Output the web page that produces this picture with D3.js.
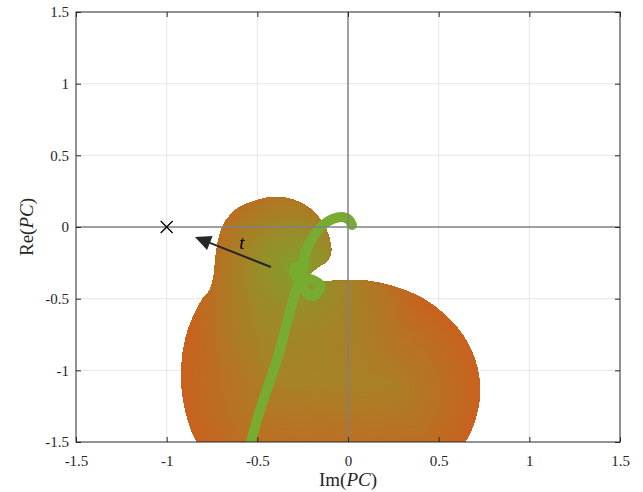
<!DOCTYPE html>
<html><head><meta charset="utf-8">
<script src="https://cdn.jsdelivr.net/npm/d3@7"></script>
<style>body{margin:0;background:#fff}</style>
</head><body>
<svg id="c" width="643" height="492" xmlns="http://www.w3.org/2000/svg"></svg>
<script>
// ---- data ----
const xTicks = [-1.5, -1, -0.5, 0, 0.5, 1, 1.5];
const yTicks = [-1.5, -1, -0.5, 0, 0.5, 1, 1.5];
const xTickLabels = ["-1.5", "-1", "-0.5", "0", "0.5", "1", "1.5"];
const yTickLabels = ["-1.5", "-1", "-0.5", "0", "0.5", "1", "1.5"];

// outline of the shaded region (Im, Re)
const regionX = [-0.60, -0.76, -0.833, -0.882, -0.915, -0.915, -0.882, -0.805, -0.761, -0.739, -0.730, -0.712, -0.684, -0.632, -0.562, -0.475, -0.397, -0.319, -0.245, -0.183, -0.135, -0.104, -0.094, -0.116, -0.165, -0.210, -0.182, 0.050, 0.176, 0.309, 0.425, 0.535, 0.632, 0.700, 0.728, 0.700, 0.645, 0.502];
const regionY = [-1.72, -1.62, -1.500, -1.347, -1.137, -0.928, -0.719, -0.509, -0.440, -0.335, -0.216, -0.077, 0.021, 0.105, 0.160, 0.196, 0.209, 0.196, 0.158, 0.097, 0.017, -0.075, -0.174, -0.237, -0.279, -0.335, -0.370, -0.370, -0.391, -0.440, -0.509, -0.614, -0.753, -0.928, -1.137, -1.347, -1.500, -1.695];

// trajectory (green curve)
const pathX = [-0.555, -0.535, -0.502, -0.452, -0.392, -0.347, -0.303, -0.281, -0.254, -0.232, -0.199, -0.165, -0.154, -0.193, -0.237, -0.280, -0.300, -0.280, -0.250, -0.243, -0.221, -0.182, -0.138, -0.083, -0.033, 0.006, 0.022];
const pathY = [-1.62, -1.500, -1.347, -1.151, -0.928, -0.719, -0.509, -0.426, -0.384, -0.453, -0.481, -0.453, -0.405, -0.370, -0.356, -0.350, -0.310, -0.275, -0.290, -0.216, -0.133, -0.049, 0.014, 0.056, 0.070, 0.049, 0.014];

const markerX = [-1], markerY = [0];
const arrowX = [-0.425, -0.844], arrowY = [-0.279, -0.070];
const arrowLabel = {x: -0.585, y: -0.112, text: "t"};

// ---- chart ----
const svg = d3.select("#c");
const W = 643, H = 492;
const L = 76, R = 620, T = 12, B = 442;
const x = d3.scaleLinear().domain([-1.5, 1.5]).range([L, R]);
const y = d3.scaleLinear().domain([-1.5, 1.5]).range([B, T]);
const serif = "'Liberation Serif', 'DejaVu Serif', serif";

svg.append("rect").attr("width", W).attr("height", H).attr("fill", "#fff");

const defs = svg.append("defs");
defs.append("clipPath").attr("id", "plotClip").append("rect")
  .attr("x", L).attr("y", T).attr("width", R - L).attr("height", B - T);

const regionPts = regionX.map((v, i) => [v, regionY[i]]);
const regionLine = d3.line().x(d => x(d[0])).y(d => y(d[1])).curve(d3.curveCatmullRomClosed.alpha(0.5));
const regionD = regionLine(regionPts);
defs.append("clipPath").attr("id", "shapeClip").append("path").attr("d", regionD);

const rg = defs.append("radialGradient").attr("id", "greenGlow")
  .attr("gradientUnits", "userSpaceOnUse")
  .attr("cx", x(-0.26)).attr("cy", y(-0.30)).attr("r", 125);
rg.append("stop").attr("offset", 0).attr("stop-color", "rgb(118,168,45)").attr("stop-opacity", 0.9);
rg.append("stop").attr("offset", 0.45).attr("stop-color", "rgb(130,160,45)").attr("stop-opacity", 0.45);
rg.append("stop").attr("offset", 1).attr("stop-color", "rgb(140,150,45)").attr("stop-opacity", 0);

// grid
const grid = svg.append("g");
xTicks.filter(v => v !== 0 && Math.abs(v) !== 1.5).forEach(v => {
  grid.append("line").attr("x1", x(v)).attr("x2", x(v)).attr("y1", T).attr("y2", B)
    .attr("stroke", "#e6e6e6").attr("stroke-width", 1);
});
yTicks.filter(v => v !== 0 && Math.abs(v) !== 1.5).forEach(v => {
  grid.append("line").attr("y1", y(v)).attr("y2", y(v)).attr("x1", L).attr("x2", R)
    .attr("stroke", "#e6e6e6").attr("stroke-width", 1);
});

// shaded region with inward colour gradient
const plotG = svg.append("g").attr("clip-path", "url(#plotClip)");
const shapeG = plotG.append("g").attr("clip-path", "url(#shapeClip)");
const edgeCol = d3.rgb(202, 97, 30), innerCol = d3.rgb(160, 138, 42);
const cInterp = d3.interpolateRgb(edgeCol, innerCol);
const dMax = 130;
shapeG.append("path").attr("d", regionD).attr("fill", innerCol.toString());
for (let d = dMax; d >= 1; d -= 2) {
  shapeG.append("path").attr("d", regionD).attr("fill", "none")
    .attr("stroke", cInterp(Math.pow(d / dMax, 0.85))).attr("stroke-width", 2 * d)
    .attr("stroke-linejoin", "round");
}
shapeG.append("rect").attr("x", L).attr("y", T).attr("width", R - L).attr("height", B - T)
  .attr("fill", "url(#greenGlow)");

// axis lines through origin
svg.append("line").attr("x1", x(0)).attr("x2", x(0)).attr("y1", T).attr("y2", B)
  .attr("stroke", "#808080").attr("stroke-width", 1.5);
svg.append("line").attr("x1", L).attr("x2", R).attr("y1", y(0)).attr("y2", y(0))
  .attr("stroke", "#808080").attr("stroke-width", 1.5);

// trajectory
const pathPts = pathX.map((v, i) => [v, pathY[i]]);
plotG.append("path")
  .attr("d", d3.line().x(d => x(d[0])).y(d => y(d[1])).curve(d3.curveCatmullRom.alpha(0.5))(pathPts))
  .attr("fill", "none").attr("stroke", "#77AC30").attr("stroke-width", 10)
  .attr("stroke-linecap", "round").attr("stroke-linejoin", "round");

// marker x
markerX.forEach((mx, i) => {
  const cx = x(mx), cy = y(markerY[i]), s = 6;
  svg.append("path").attr("d", `M${cx - s},${cy - s}L${cx + s},${cy + s}M${cx - s},${cy + s}L${cx + s},${cy - s}`)
    .attr("stroke", "#000").attr("stroke-width", 1.3).attr("fill", "none");
});

// arrow
{
  const x0 = x(arrowX[0]), y0 = y(arrowY[0]), x1 = x(arrowX[1]), y1 = y(arrowY[1]);
  const ang = Math.atan2(y1 - y0, x1 - x0);
  const hl = 16, hw = 7.5;
  const bx = x1 - hl * Math.cos(ang), by = y1 - hl * Math.sin(ang);
  svg.append("line").attr("x1", x0).attr("y1", y0).attr("x2", bx).attr("y2", by)
    .attr("stroke", "#262626").attr("stroke-width", 2);
  const px = -Math.sin(ang), py = Math.cos(ang);
  svg.append("path")
    .attr("d", `M${x1},${y1}L${bx + hw * px},${by + hw * py}L${bx - hw * px},${by - hw * py}Z`)
    .attr("fill", "#262626");
  svg.append("text").attr("x", x(arrowLabel.x)).attr("y", y(arrowLabel.y) + 6)
    .attr("text-anchor", "middle").attr("font-family", serif).attr("font-style", "italic")
    .attr("font-size", 19).attr("fill", "#000").text(arrowLabel.text);
}

// frame
svg.append("rect").attr("x", L).attr("y", T).attr("width", R - L).attr("height", B - T)
  .attr("fill", "none").attr("stroke", "#262626").attr("stroke-width", 1);

// axes
const fs = 15;
const xAxis = d3.axisBottom(x).tickValues(xTicks).tickSizeInner(-5).tickSizeOuter(0)
  .tickPadding(13).tickFormat((d, i) => xTickLabels[i]);
const gx = svg.append("g").attr("transform", `translate(0,${B})`).call(xAxis);
const yAxis = d3.axisLeft(y).tickValues(yTicks).tickSizeInner(-5).tickSizeOuter(0)
  .tickPadding(7).tickFormat((d, i) => yTickLabels[i]);
const gy = svg.append("g").attr("transform", `translate(${L},0)`).call(yAxis);
// mirrored ticks on top/right
const gxt = svg.append("g").attr("transform", `translate(0,${T})`)
  .call(d3.axisTop(x).tickValues(xTicks).tickSizeInner(-5).tickSizeOuter(0).tickFormat(""));
const gyr = svg.append("g").attr("transform", `translate(${R},0)`)
  .call(d3.axisRight(y).tickValues(yTicks).tickSizeInner(-5).tickSizeOuter(0).tickFormat(""));
[gx, gy, gxt, gyr].forEach(g => {
  g.select(".domain").remove();
  g.selectAll("line").attr("stroke", "#262626");
  g.selectAll("text").attr("font-family", serif).attr("font-size", fs).attr("fill", "#262626");
});

// axis titles
const xt = svg.append("text").attr("x", (L + R) / 2).attr("y", 486).attr("text-anchor", "middle")
  .attr("font-family", serif).attr("font-size", 19).attr("fill", "#262626");
xt.append("tspan").text("Im(");
xt.append("tspan").attr("font-style", "italic").text("PC");
xt.append("tspan").text(")");
const yt = svg.append("text").attr("transform", `translate(33,${(T + B) / 2}) rotate(-90)`)
  .attr("text-anchor", "middle").attr("font-family", serif).attr("font-size", 19).attr("fill", "#262626");
yt.append("tspan").text("Re(");
yt.append("tspan").attr("font-style", "italic").text("PC");
yt.append("tspan").text(")");
</script>
</body></html>
